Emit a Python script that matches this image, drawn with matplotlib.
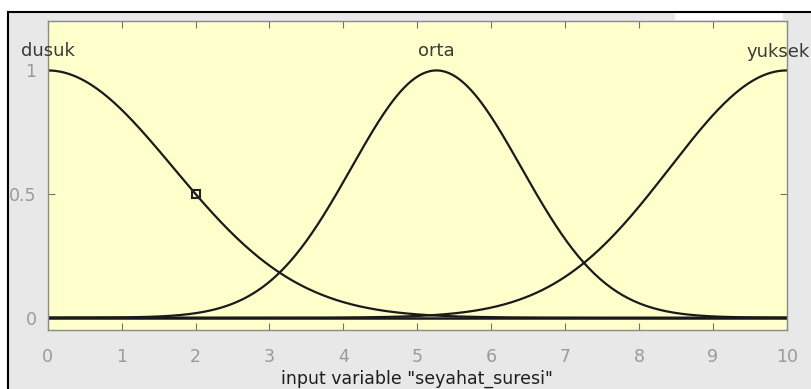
import numpy as np
import matplotlib
matplotlib.use("Agg")
import matplotlib.pyplot as plt
from matplotlib.patches import Rectangle
from matplotlib.lines import Line2D

# ---- data ----
mf_names = ["dusuk", "orta", "yuksek"]
mf_centers = [0.0, 5.26, 10.0]      # gaussmf centres
mf_sigmas = [1.70, 1.15, 1.58]      # gaussmf widths
x_range = [0, 10]
x_ticks = [0, 1, 2, 3, 4, 5, 6, 7, 8, 9, 10]
y_ticks = [0, 0.5, 1]
y_tick_labels = ["0", "0.5", "1"]
selected_point = (2.0, 0.5)
x_label = 'input variable "seyahat_suresi"'

W, H = 811, 389
fig = plt.figure(figsize=(W / 100, H / 100), dpi=100)
fig.patch.set_facecolor("#e8e8e8")
plt.rcParams['font.family'] = ['DejaVu Sans']

def fx(px):
    return px / W

def fy(py):
    return 1 - py / H

ax_l, ax_r, ax_t, ax_b = 47.7, 786.7, 21, 330
ax = fig.add_axes([fx(ax_l), fy(ax_b), (ax_r - ax_l) / W, (ax_b - ax_t) / H])
ax.set_facecolor("#ffffcc")
ax.set_xlim(x_range)
ax.set_ylim(-0.05, 1.2)

xs = np.linspace(x_range[0], x_range[1], 401)
for c, s in zip(mf_centers, mf_sigmas):
    ax.plot(xs, np.exp(-((xs - c) ** 2) / (2 * s ** 2)), color="#1a1a1a", lw=1.6)
ax.axhline(0, color="#1a1a1a", lw=1.8)

for i, (name, c) in enumerate(zip(mf_names, mf_centers)):
    if i == len(mf_names) - 1:
        # last label sits at the right edge of the window; keep it inside
        fig.text(fx(810), fy(57), name, ha="right", va="baseline", fontsize=13,
                 color="#3a3a3a")
    else:
        ax.text(c, 1.06, name, ha="center", va="baseline", fontsize=13,
                color="#3a3a3a", clip_on=False)

ax.plot([selected_point[0]], [selected_point[1]], marker="s", ms=6,
        mfc="none", mec="#222222", mew=1.5)

ax.set_xticks(x_ticks)
ax.set_xticklabels([str(t) for t in x_ticks])
ax.set_yticks(y_ticks)
ax.set_yticklabels(y_tick_labels)
ax.tick_params(axis="both", direction="in", length=5, width=0.8, color="#707070",
               labelcolor="#9a9a9a", labelsize=12.5, top=True, right=True)
ax.tick_params(axis="x", pad=13)
ax.tick_params(axis="y", pad=8)
for sp in ax.spines.values():
    sp.set_color("#8a8a8a")
    sp.set_linewidth(1.0)

fig.text(fx(ax_l + (ax_r - ax_l) / 2), fy(388), x_label, ha="center", va="bottom",
         fontsize=12.5, color="#1e1e1e")

# surrounding window chrome
fig.add_artist(Rectangle((0, fy(12)), 1, 1 - fy(12), transform=fig.transFigure,
                         facecolor="white", edgecolor="none", zorder=5))
fig.add_artist(Rectangle((0, 0), fx(8), 1, transform=fig.transFigure,
                         facecolor="white", edgecolor="none", zorder=5))
fig.add_artist(Rectangle((fx(675), fy(20)), fx(783) - fx(675), fy(12.5) - fy(20),
                         transform=fig.transFigure, facecolor="white",
                         edgecolor="none", zorder=5))
fig.add_artist(Line2D([fx(8), 1], [fy(12), fy(12)], transform=fig.transFigure,
                      color="black", lw=1.5, zorder=6))
fig.add_artist(Line2D([fx(8), fx(8)], [0, fy(12)], transform=fig.transFigure,
                      color="black", lw=1.5, zorder=6))

fig.savefig("out.png", dpi=100, facecolor=fig.get_facecolor())
